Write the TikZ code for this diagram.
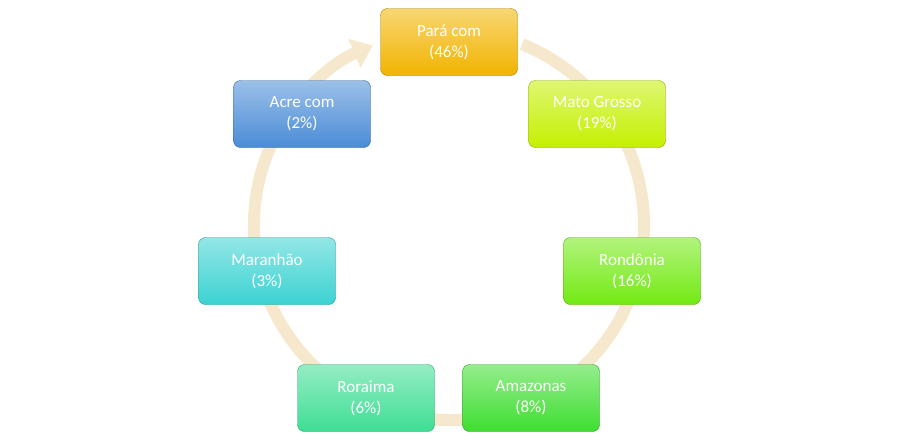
\documentclass[tikz,border=0pt]{standalone}
\usepackage{fontspec}
\setmainfont{Carlito}
\usetikzlibrary{arrows.meta}

\definecolor{cPara}{HTML}{F2B400}
\definecolor{cMato}{HTML}{C4F000}
\definecolor{cRond}{HTML}{72EA12}
\definecolor{cAmaz}{HTML}{3EDE30}
\definecolor{cRora}{HTML}{3EDE94}
\definecolor{cMara}{HTML}{3CD2D2}
\definecolor{cAcre}{HTML}{4A8CD6}
\definecolor{ringcol}{HTML}{F6E8CC}

\tikzset{
    state/.style = {
        draw = #1!70!black,
        top color = #1!55!white,
        bottom color = #1,
        rounded corners = 7pt,
        minimum width = 137pt,
        minimum height = 67pt,
        align = center,
        text = white,
        font = \fontsize{17}{21}\selectfont
    },
    ring/.style = {
        line width = 12pt,
        draw = ringcol,
        -{Triangle[width=30pt,length=20pt]}
    }
}

\begin{document}
\begin{tikzpicture}[x=1pt, y={(0,-1pt)}]
    \useasboundingbox (0,0) rectangle (900,442);
    \draw [ring] (449,225) ++(-68:195) arc [start angle=-68, end angle=247, radius=195];

    \node (para) [state=cPara] at (449,42) {Pará com\\(46\%)};
    \node (mato) [state=cMato] at (597,114) {Mato Grosso\\(19\%)};
    \node (rond) [state=cRond] at (632,271) {Rondônia\\(16\%)};
    \node (amaz) [state=cAmaz] at (531,398) {Amazonas\\(8\%)};
    \node (rora) [state=cRora] at (366,398) {Roraima\\(6\%)};
    \node (mara) [state=cMara] at (267,271) {Maranhão\\(3\%)};
    \node (acre) [state=cAcre] at (302,114) {Acre com\\(2\%)};
\end{tikzpicture}
\end{document}
